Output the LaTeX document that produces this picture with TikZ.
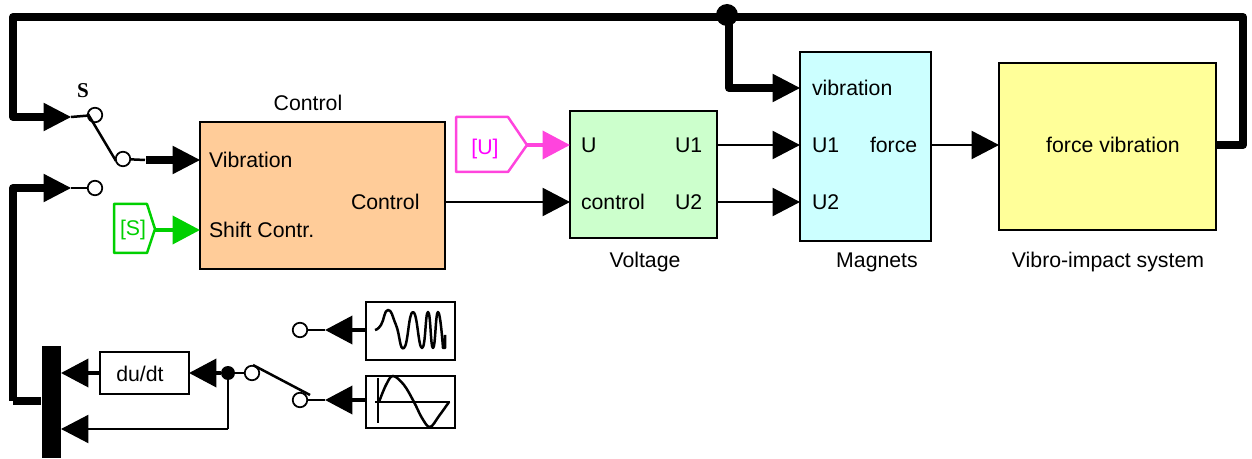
\documentclass[tikz,border=0pt]{standalone}
\usepackage{fontspec}
\setmainfont{Liberation Sans}
\newfontfamily\serifbold{Liberation Serif}
\usetikzlibrary{calc, arrows.meta}

\definecolor{tagGreen}{HTML}{00D000}
\definecolor{tagMagenta}{HTML}{FF44DD}

\begin{document}
\begin{tikzpicture}[x=0.02cm, y=-0.02cm,
    >={Triangle[length=5.5mm,width=5.6mm]},
    txt/.style={font=\fontsize{12.1}{14}\selectfont, inner sep=0pt, outer sep=0pt},
    portlab/.style={txt, anchor=west},
    block/.style={draw, line width=0.5mm, inner sep=0pt, outer sep=0pt},
    port/.style={circle, draw, fill=white, line width=0.35mm, minimum size=0.29cm, inner sep=0pt, outer sep=0pt},
    dot/.style={circle, fill=black, inner sep=0pt, outer sep=0pt},
    thinwire/.style={line width=0.5mm},
    fatwire/.style={line width=1.6mm, line join=round},
    midwire/.style={line width=0.8mm}]
    \useasboundingbox (0,0) rectangle (1252,459);

    % Define points
    \coordinate (topleft) at (13,17);
    \coordinate (topright) at (1243,17);
    \coordinate (sysout) at (1243,145);
    \coordinate (swleft) at (13,117);
    \coordinate (lowerleft) at (13,188);
    \coordinate (muxleft) at (13,401);
    \coordinate (magbend) at (729,88);
    \coordinate (leverA) at (88,114);
    \coordinate (leverB) at (116,161);
    \coordinate (leverC) at (253,365);
    \coordinate (leverD) at (310,395);
    \coordinate (wirebreak) at (146,160);
    \coordinate (lowbend) at (228,429);
    \coordinate (chirptip) at (325,330);
    \coordinate (sinetip) at (325,400);

    % Main blocks
    \node[block, fill={rgb,255:red,255;green,204;blue,153}, minimum width=4.9cm, minimum height=2.94cm] (control) at (322.5,195.5) {};
    \node[block, fill={rgb,255:red,204;green,255;blue,204}, minimum width=2.94cm, minimum height=2.54cm] (voltage) at (643.5,174.5) {};
    \node[block, fill={rgb,255:red,204;green,255;blue,255}, minimum width=2.62cm, minimum height=3.78cm] (magnets) at (865.5,146.5) {};
    \node[block, fill={rgb,255:red,255;green,255;blue,153}, minimum width=4.34cm, minimum height=3.34cm] (system) at (1107.5,146.5) {};
    \node[block, minimum width=1.78cm, minimum height=0.84cm] (deriv) at (144.5,373) {};
    \node[block, minimum width=1.78cm, minimum height=1.16cm] (chirp) at (410.5,331) {};
    \node[block, minimum width=1.78cm, minimum height=1.04cm] (sine) at (410.5,402) {};
    \node[fill=black, inner sep=0pt, outer sep=0pt, minimum width=0.38cm, minimum height=2.24cm] (mux) at (51.5,402) {};

    % Captions
    \node[txt] (capcontrol) at (308,103) {Control};
    \node[txt] (capvoltage) at (645,262) {Voltage};
    \node[txt] (capmagnets) at (877,262) {Magnets};
    \node[txt] (capsystem) at (1108,262) {Vibro-impact system};
    \node[font=\fontsize{12}{14}\selectfont\serifbold\bfseries, inner sep=0pt] (swname) at (83,91) {S};

    % Port labels
    \node[portlab] (lvib) at (209,160) {Vibration};
    \node[portlab] (lshift) at (209,230) {Shift Contr.};
    \node[portlab] (lctrl) at (351,202) {Control};
    \node[portlab] (lu) at (581,145) {U};
    \node[portlab] (lcontrol) at (581,202) {control};
    \node[portlab] (luone) at (675,145) {U1};
    \node[portlab] (lutwo) at (675,202) {U2};
    \node[portlab] (lmvib) at (812,88) {vibration};
    \node[portlab] (lmuone) at (812,145) {U1};
    \node[portlab] (lmutwo) at (812,202) {U2};
    \node[portlab] (lforce) at (870,145) {force};
    \node[txt] (lsystem) at (1113,145) {force vibration};
    \node[txt] (lderiv) at (140,374) {du/dt};

    % Goto tags
    \draw[tagGreen, line width=0.5mm, line join=round] (114,204) -- (147,204) -- (155,229) -- (147,253) -- (114,253) -- cycle;
    \coordinate (tagS) at (155,230);
    \node[txt, text=tagGreen] (ltagS) at (133,230) {[S]};
    \draw[tagMagenta, line width=0.5mm, line join=round] (456,117) -- (508,117) -- (527,145) -- (508,172) -- (456,172) -- cycle;
    \coordinate (tagU) at (527,145);
    \node[txt, text={rgb,255:red,255;green,0;blue,255}] (ltagU) at (485,149) {[U]};
    \draw[->, tagGreen, midwire] (tagS) -- (control.west |- tagS);
    \draw[->, tagMagenta, midwire] (tagU) -- (voltage.west |- tagU);

    % Switch ports
    \node[port] (swtop) at (95,115) {};
    \node[port] (swout) at (123,159) {};
    \node[port] (swlow) at (95,188) {};
    \node[port] (gena) at (252,373) {};
    \node[port] (genb) at (300,330) {};
    \node[port] (genc) at (300,400) {};
    \node[dot, minimum size=0.28cm] (fork) at (228,373) {};
    \node[dot, minimum size=0.44cm] (topfork) at (727,15) {};

    % Feedback loop
    \draw[fatwire] (system.east |- sysout) -- (sysout) -- (topright) -- (topleft) -- (swleft) -- ($(swleft)+(31,0)$);
    \draw[fatwire] (magbend |- topfork) -- (magbend) -- ($(magbend)+(45,0)$);
    \draw[->, thinwire] ($(magbend)+(42,0)$) -- (magnets.west |- magbend);
    \draw[->, thinwire] ($(swleft)+(30,0)$) -- (71,117);
    \draw[thinwire] (71,117) -- (swtop);
    \draw[thinwire] (leverA) -- (leverB);
    \draw[thinwire] (swout) -- (145,160);
    \draw[fatwire] (wirebreak) -- (175,160);
    \draw[->, thinwire] (172,160) -- (control.west |- wirebreak);
    \draw[fatwire] (muxleft) -- (lowerleft) -- (46,188);
    \draw[->, thinwire] (44,188) -- (71,188);
    \draw[thinwire] (71,188) -- (swlow);
    \draw[fatwire] (muxleft) -- (41,401);

    % Signal path
    \draw[->, thinwire] (control.east |- lctrl) -- (voltage.west |- lctrl);
    \draw[->, thinwire] (voltage.east |- luone) -- (magnets.west |- luone);
    \draw[->, thinwire] (voltage.east |- lutwo) -- (magnets.west |- lutwo);
    \draw[->, thinwire] (magnets.east |- lforce) -- (system.west |- lforce);

    % Lower left part
    \draw[->, midwire] (chirp.west |- chirptip) -- (chirptip);
    \draw[thinwire] (chirptip) -- (genb);
    \draw[->, midwire] (sine.west |- sinetip) -- (sinetip);
    \draw[thinwire] (sinetip) -- (genc);
    \draw[thinwire] (leverC) -- (leverD);
    \draw[thinwire] (fork) -- (gena);
    \draw[->, midwire] (fork) -- (deriv.east);
    \draw[->, midwire] (deriv.west) -- (mux.east |- deriv);
    \draw[thinwire] (fork) -- (lowbend);
    \draw[->, thinwire] (lowbend) -- (mux.east |- lowbend);

    % Signal icons
    \draw[line width=0.5mm, line join=round] plot[smooth, tension=0.9] coordinates {(375,330) (381,325) (388,310) (396,325) (404,348) (413,312) (422,348) (428,312) (433,348) (438,312) (443,348)} -- (445,348) -- (445,335);
    \draw[line width=0.5mm] (378,378) -- (378,423);
    \draw[line width=0.5mm] (375,402) -- (450,402);
    \draw[line width=0.5mm] plot[smooth, tension=0.6] coordinates {(379,402) (386,385) (393,376) (404,385) (414,402) (422,418) (430,427) (439,416) (449,402)};
\end{tikzpicture}
\end{document}
